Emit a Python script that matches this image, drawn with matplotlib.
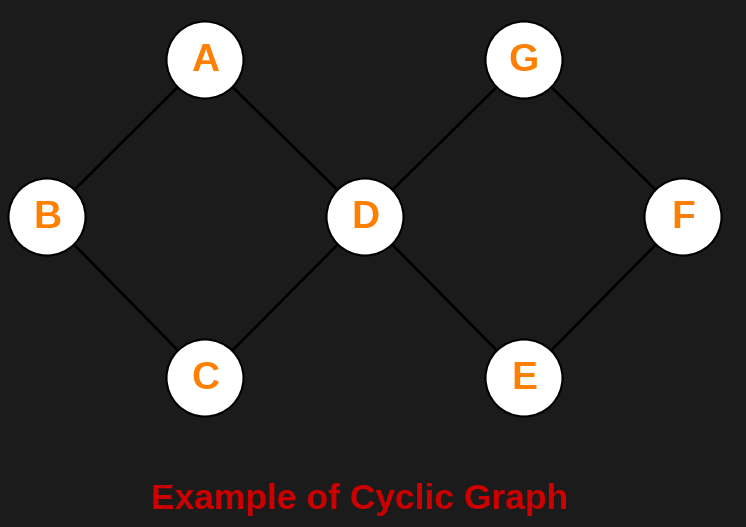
import matplotlib.pyplot as plt
from matplotlib.patches import Circle

# graph data
nodes = ["A", "B", "C", "D", "E", "F", "G"]
edges = [("A", "B"), ("B", "C"), ("C", "D"), ("A", "D"),
         ("D", "G"), ("G", "F"), ("F", "E"), ("E", "D")]
title = "Example of Cyclic Graph"

# layout (pixel coords of the reference)
pos = {"A": (205, 60), "B": (47, 217), "C": (205, 378), "D": (365, 217),
       "G": (524, 60), "F": (683, 217), "E": (524, 378)}

bg = "#1b1b1b"
fig = plt.figure(figsize=(7.46, 5.27), dpi=100, facecolor=bg)
ax = fig.add_axes([0, 0, 1, 1])
ax.set_facecolor(bg)
ax.set_xlim(0, 746)
ax.set_ylim(527, 0)
ax.set_aspect("equal")
ax.axis("off")

for a, b in edges:
    (x1, y1), (x2, y2) = pos[a], pos[b]
    ax.plot([x1, x2], [y1, y2], color="black", lw=1.9, zorder=1)

for n in nodes:
    x, y = pos[n]
    ax.add_patch(Circle((x, y), 38.5, facecolor="white", edgecolor="black",
                        lw=1.5, zorder=2))
    ax.text(x, y + 1, n, color="#ff8000", fontsize=28, fontweight="bold",
            family="Liberation Sans", ha="center", va="center", zorder=3)

ax.text(360, 500, title, color="#cc0000", fontsize=25.5, fontweight="bold",
        family="Liberation Sans", ha="center", va="center")

fig.savefig("out.png", dpi=100, facecolor=bg)
